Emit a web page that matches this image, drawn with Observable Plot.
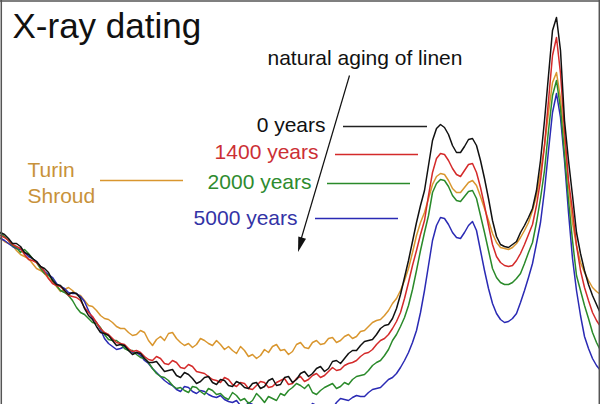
<!DOCTYPE html>
<html><head><meta charset="utf-8">
<script src="https://cdn.jsdelivr.net/npm/d3@7"></script>
<script src="https://cdn.jsdelivr.net/npm/@observablehq/plot@0.6"></script>
<style>body{margin:0;background:#fff;} #chart svg{display:block;}</style>
</head><body><div id="chart"></div>
<script>
// detector channel (scattering angle, arbitrary units)
const channel = [0,8,16,24,32,40,48,56,64,72,80,88,96,104,112,120,128,136,144,152,160,168,176,184,192,200,208,216,224,232,240,248,256,264,272,280,288,296,304,312,320,328,336,344,352,360,368,376,384,392,400,408,416,424,
428,432,436,440,444,448,452,456,460,464,468,472,476,480,484,488,492,496,500,504,508,512,516,520,524,528,532,536,540,544,548,552,556,560,564,568,572,576,580,584,588,592,596,600];
// extra in-between readings in the noisy low-angle region
const channelMid = [4,12,20,28,36,44,52,60,68,76,84,92,100,108,116,124,132,140,148,156,164,172,180,188,196,204,212,220,228,236,244,252,260,268,276,284,292,300,308,316,324,332,340,348,356,364,372,380,388,396,404,412,420];

// intensity (arbitrary units)
const years0 = [172,166,161,152,146,138,132,120,114,112,106,89,78,71,64,60,54,52,46,42,38,34,29,32,26,23,28,20,24,18,21,16,22,18,26,20,28,25,33,31,38,36,44,46,54,59,64,70,79,86,110,144,182,214,
239,264,276,280,277,270,259,252,252,258,265,266,259,244,226,206,184,168,160,158,157,160,163,172,179,187,196,214,244,284,329,374,387,354,284,244,209,172,151,134,120,109,100,91];
const years0Mid = [170,161,158,150,143,136,124,119,110,111,96,85,72,69,59,59,50,51,42,43,33,35,27,30,21,27,22,25,19,23,17,21,16,24,19,27,22,31,28,36,33,43,41,51,54,63,65,76,80,96,127,163,199];

const years1400 = [169,164,158,150,144,138,126,119,114,108,104,92,82,72,66,61,56,54,48,44,46,40,42,36,38,32,28,24,27,20,22,16,19,22,18,24,20,26,23,29,27,33,34,39,42,48,52,60,66,76,92,122,154,184,
209,232,246,251,250,244,236,230,228,234,240,241,232,217,199,179,160,148,142,139,138,139,144,151,160,170,180,199,224,259,304,349,367,331,274,224,194,159,134,117,104,92,84,78];
const years1400Mid = [167,160,156,145,142,133,121,118,109,107,97,88,76,70,62,60,53,52,45,48,41,44,37,40,33,31,25,22,25,18,21,15,23,17,22,26,21,28,25,31,29,37,35,41,44,51,55,64,70,83,106,139,170];

const shroud = [167,161,154,148,141,134,126,118,115,114,109,99,94,86,82,76,72,70,72,59,68,71,66,59,57,66,61,64,55,54,58,48,46,55,58,54,50,60,57,62,60,66,62,68,66,73,78,84,89,101,114,136,169,192,
206,220,228,231,230,224,216,212,212,217,222,224,219,208,196,184,171,162,157,156,155,157,161,167,174,182,194,209,232,259,292,322,332,306,264,219,182,159,142,132,124,117,113,110];
const shroudMid = [163,159,150,146,136,131,123,113,117,110,104,98,89,85,78,76,69,74,64,65,64,72,62,61,60,64,59,60,58,51,54,50,49,52,60,55,53,62,56,64,61,67,64,70,68,74,82,85,94,106,124,152,182];

const years2000 = [171,164,157,155,146,136,129,119,112,104,92,86,81,70,64,61,54,50,46,36,28,24,16,14,18,13,16,10,7,12,4,1,11,2,6,11,14,21,16,12,14,19,16,22,25,29,34,42,49,64,78,99,134,172,
189,212,221,225,224,218,209,204,203,208,213,214,206,189,172,154,136,127,122,120,120,122,126,131,141,152,162,182,206,234,274,309,324,296,249,204,164,129,114,99,86,72,62,54];
const years2000Mid = [168,159,152,151,142,131,125,114,109,97,90,82,77,65,64,56,54,47,42,31,27,19,17,12,17,10,14,11,5,9,6,4,7,8,4,9,17,19,20,10,17,21,18,20,28,30,39,44,55,70,87,115,154];

const years5000 = [166,161,156,152,146,138,130,121,116,111,108,94,82,66,58,56,55,52,44,36,28,21,15,18,13,14,10,7,5,2,-1,2,-6,-4,-8,-2,-6,-4,-8,1,-4,-6,2,5,7,8,12,16,21,27,37,52,74,114,
139,164,179,187,186,180,172,167,166,172,179,183,174,154,134,116,101,91,85,82,83,86,91,102,114,127,141,161,182,214,254,292,311,287,244,192,146,114,89,68,56,46,39,34];
const years5000Mid = [164,158,155,148,143,133,127,118,112,111,103,86,75,61,55,58,52,49,41,32,24,19,13,17,11,13,8,9,3,4,-3,0,-2,-6,-4,-3,-8,-2,-5,-1,-2,-4,6,4,9,8,15,17,25,31,44,62,92];

const seriesNames = ["Turin Shroud", "5000 years", "2000 years", "1400 years", "0 years"];
const seriesValues = [shroud, years5000, years2000, years1400, years0];
const seriesMid = [shroudMid, years5000Mid, years2000Mid, years1400Mid, years0Mid];
const seriesColors = ["#d9962e", "#2a2ab4", "#2a8a2a", "#d42a2a", "#111111"];

const rows = [];
seriesNames.forEach((name, i) => {
  const pts = [];
  seriesValues[i].forEach((v, j) => pts.push({series: name, x: channel[j], y: v}));
  seriesMid[i].forEach((v, j) => pts.push({series: name, x: channelMid[j], y: v}));
  pts.sort((a, b) => a.x - b.x);
  rows.push(...pts);
});

// annotations
const title = "X-ray dating";
const arrowLabel = "natural aging of linen";
const ageLabels = ["0 years", "1400 years", "2000 years", "5000 years"];
const ageColors = ["#111111", "#cc2f35", "#2e8b2e", "#3333a6"];
const ageLabelPos = [{x:325,y:273},{x:318,y:246},{x:311,y:216},{x:297,y:180}];
const ageLeaders = [{x1:343,x2:427,y:278},{x1:335,x2:418,y:250},{x1:327,x2:410,y:221},{x1:315,x2:398,y:186}];
const ageLeaderColors = ["#222222", "#d42a2a", "#2a8a2a", "#2a2ab4"];

const font = "'Liberation Sans', Arial, Helvetica, sans-serif";

const plot = Plot.plot({
  width: 600, height: 404, margin: 0,
  x: {domain: [0, 600], axis: null},
  y: {domain: [0, 404], axis: null},
  color: {domain: seriesNames, range: seriesColors},
  style: {fontFamily: font, background: "#fff", overflow: "hidden"},
  marks: [
    Plot.lineY(rows, {x: "x", y: "y", z: "series", stroke: "series", strokeWidth: 1.5, clip: true, strokeLinejoin: "round"}),
    Plot.text([title], {x: 12, y: 367, text: d => d, fontSize: 35, textAnchor: "start", lineAnchor: "bottom", fill: "#111"}),
    Plot.text([arrowLabel], {x: 267, y: 340, text: d => d, fontSize: 21, textAnchor: "start", lineAnchor: "bottom", fill: "#111"}),
    Plot.text(ageLabels, {x: (d, i) => ageLabelPos[i].x, y: (d, i) => ageLabelPos[i].y, text: d => d, fill: (d, i) => ageColors[i], fontSize: 21, textAnchor: "end", lineAnchor: "bottom"}),
    Plot.text(["Turin", "Shroud"], {x: 27, y: (d, i) => [228, 202][i], text: d => d, fill: "#c8923a", fontSize: 21, textAnchor: "start", lineAnchor: "bottom"}),
    Plot.ruleY(ageLeaders, {x1: "x1", x2: "x2", y: "y", stroke: (d, i) => ageLeaderColors[i], strokeWidth: 1.3}),
    Plot.ruleY([224], {x1: 100, x2: 183, stroke: "#d9962e", strokeWidth: 1.3}),
    Plot.link([{x1: 349, y1: 329, x2: 299, y2: 160}], {x1: "x1", y1: "y1", x2: "x2", y2: "y2", stroke: "#111", strokeWidth: 1.2}),
    Plot.ruleY([403.6], {stroke: "#555", strokeWidth: 1.5}),
    Plot.ruleX([0.8, 598.8], {stroke: "#555", strokeWidth: 1.5})
  ]
});

// filled arrowhead at the end of the aging arrow, placed with the plot's scales
const sx = plot.scale("x"), sy = plot.scale("y");
const tip = [sx.apply(298), sy.apply(152)];
const from = [sx.apply(349), sy.apply(329)];
const dx = tip[0] - from[0], dy = tip[1] - from[1];
const len = Math.hypot(dx, dy), ux = dx / len, uy = dy / len;
const hl = 15, hw = 4;
const bx = tip[0] - ux * hl, by = tip[1] - uy * hl;
d3.select(plot).append("path")
  .attr("d", `M${tip[0]},${tip[1]}L${bx - uy * hw},${by + ux * hw}L${bx + uy * hw},${by - ux * hw}Z`)
  .attr("fill", "#111");

document.getElementById("chart").appendChild(plot);
</script>
</body></html>
